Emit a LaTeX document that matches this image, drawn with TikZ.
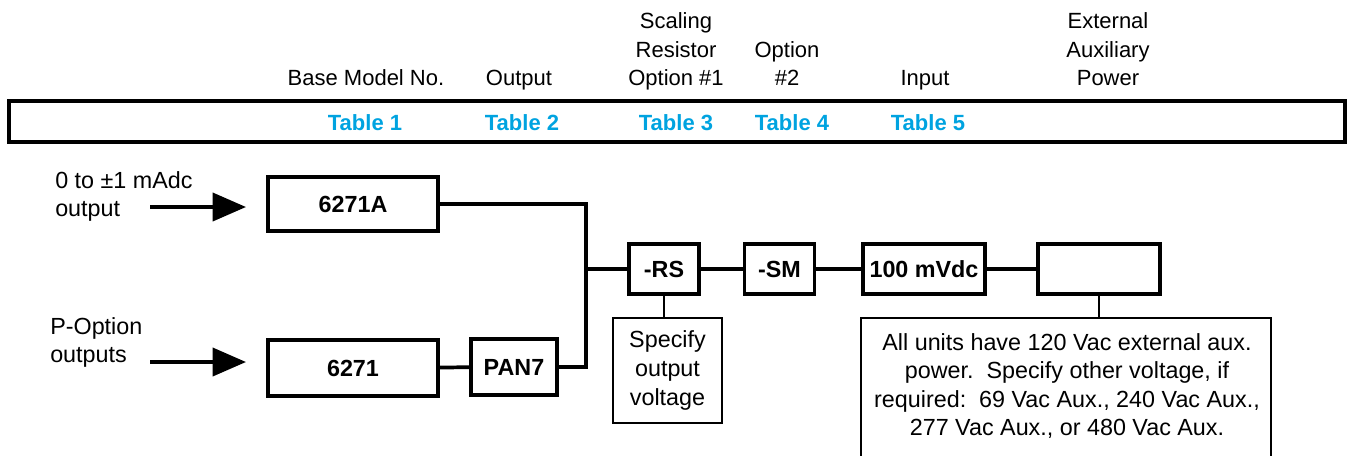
\documentclass[tikz,border=0pt]{standalone}
\usepackage{fontspec}
\setmainfont{Liberation Sans}
\usetikzlibrary{positioning}
\usetikzlibrary{arrows.meta}
\definecolor{tablecyan}{HTML}{00A3E0}

\begin{document}
\begin{tikzpicture}[
    x=0.75pt,y=-0.75pt,
    hdr/.style={anchor=south,align=center,inner sep=0pt,text depth=0.22em,font=\fontsize{16.5}{21.4}\selectfont},
    tbl/.style={text=tablecyan,inner sep=0pt,font=\fontsize{16.5}{19}\bfseries\selectfont},
    block/.style={draw,line width=2.8pt,inner sep=0pt,font=\fontsize{17.5}{19}\bfseries\selectfont},
    note/.style={draw,line width=1pt,align=center,inner sep=0pt,font=\fontsize{17.5}{21.6}\selectfont},
    inlabel/.style={anchor=west,align=left,inner sep=0pt,font=\fontsize{17.5}{21}\selectfont},
    wire/.style={line width=2.8pt},
    thinwire/.style={line width=1pt},
    bigarrow/.style={line width=2.8pt,-{Triangle[length=25pt,width=21pt]}}
]
\useasboundingbox (0,0) rectangle (1354,455);

% Kopfzeile
\node[hdr] (hBase) at (366,89) {Base Model No.};
\node[hdr] (hOut) at (519,89) {Output};
\node[hdr] (hScal) at (676,89) {Scaling\\Resistor\\Option \#1};
\node[hdr] (hOpt) at (787,89) {Option\\\#2};
\node[hdr] (hIn) at (925,89) {Input};
\node[hdr] (hAux) at (1108,89) {External\\Auxiliary\\Power};

\node[draw,line width=2.8pt,minimum width=1002pt,minimum height=30.75pt] (banner) at (677,121.5) {};
\node[tbl] (t1) at (365,123) {Table 1};
\node[tbl] (t2) at (522,123) {Table 2};
\node[tbl] (t3) at (676,123) {Table 3};
\node[tbl] (t4) at (792,123) {Table 4};
\node[tbl] (t5) at (928,123) {Table 5};

% Eingaenge
\node[inlabel] (lbl1) at (55,196) {0 to ±1 mAdc\\output};
\node[inlabel] (lbl2) at (50,342) {P-Option\\outputs};
\coordinate (in1s) at (150,207);
\coordinate (in1e) at (246,207);
\coordinate (in2s) at (150,362);
\coordinate (in2e) at (246,362);

% Bloecke
\node[block,minimum width=128pt,minimum height=41pt] (b6271A) at (353,204) {6271A};
\node[block,minimum width=128pt,minimum height=42pt] (b6271) at (353,368) {6271};
\node[block,minimum width=64pt,minimum height=42pt] (bPAN) at (514,367) {PAN7};
\node[block,minimum width=52pt,minimum height=38pt] (bRS) at (664,269) {-RS};
\node[block,minimum width=52.5pt,minimum height=38pt] (bSM) at (779.5,269) {-SM};
\node[block,minimum width=92pt,minimum height=38pt] (bIn) at (924,269) {100 mVdc};
\node[block,minimum width=92pt,minimum height=38pt] (bAux) at (1099,269) {};

% Hinweise
\node[note,minimum width=81.75pt,minimum height=78.75pt] (nRS) at (667.5,370.5) {Specify\\output\\voltage};
\node[note,minimum width=307.5pt,minimum height=108pt] (nAux) at (1066,390) {};
\node[align=center,inner sep=0pt,font=\fontsize{17.5}{21.3}\selectfont] (nAuxTxt) at (1067,386)
  {All units have 120 Vac external aux.\\power.\ \ Specify other voltage, if\\required:\ \ 69 Vac Aux., 240 Vac Aux.,\\277 Vac Aux., or 480 Vac Aux.};
\coordinate (jn) at (586,269);

% Verbindungen
\draw[bigarrow] (in1s) -- (in1e);
\draw[bigarrow] (in2s) -- (in2e);
\draw[wire] (b6271A.east) -| (jn);
\draw[wire] (b6271) -- (bPAN);
\draw[wire] (bPAN.east) -| (jn);
\draw[wire] (jn) -- (bRS.west);
\draw[wire] (bRS) -- (bSM);
\draw[wire] (bSM) -- (bIn);
\draw[wire] (bIn) -- (bAux);
\draw[thinwire] (bRS.south) -- (bRS.south |- nRS.north);
\draw[thinwire] (bAux.south) -- (bAux.south |- nAux.north);

\end{tikzpicture}
\end{document}
